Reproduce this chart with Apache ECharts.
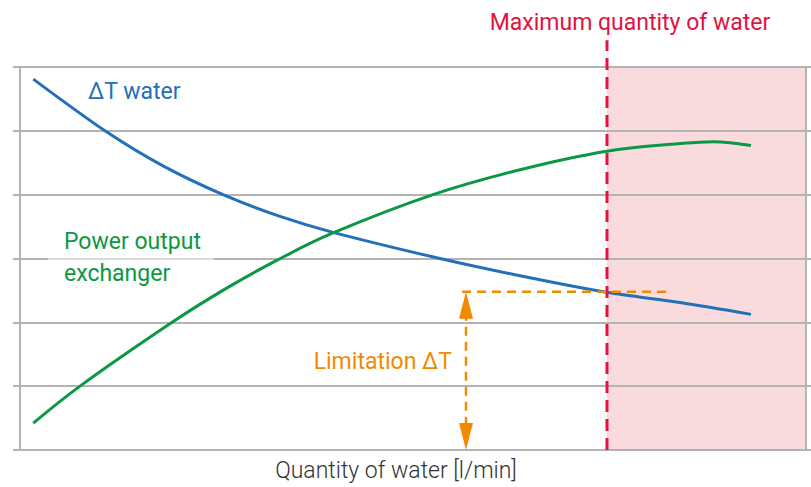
<!DOCTYPE html>
<html><head><meta charset="utf-8">
<script src="https://cdn.jsdelivr.net/npm/echarts@6/dist/echarts.min.js"></script>
<style>html,body{margin:0;padding:0;background:#fff}#c{width:811px;height:487px}</style>
</head><body><div id="c"></div>
<script>
// ---- data (hidden axes: x = water quantity units, y = arbitrary level units) ----
const xMin = 0, xMax = 78.6;
const yMin = 0, yMax = 6, yStep = 1;
const deltaTX = [1.33, 8.5, 14.3, 20.3, 26, 31.3, 42, 50, 58.67, 66, 73.1];
const deltaTY = [5.81, 5.0, 4.45, 4.0, 3.66, 3.41, 3.0, 2.73, 2.47, 2.31, 2.125];
const powerX = [1.33, 6.17, 15.4, 20.5, 25.67, 31.3, 41.3, 50, 58.67, 66, 69.3, 73.1];
const powerY = [0.42, 1.02, 2.02, 2.52, 2.97, 3.40, 4.0, 4.39, 4.68, 4.80, 4.83, 4.77];
const maxQuantityX = 58.7;
const maxLineTopY = 6.42;
const limitX = 44.6;
const limitY = 2.48;
const limitLineX = [44.2, 65.2];
const labels = {
  deltaT: {text: 'ΔT water', x: 6.8, y: 5.61},
  power: {text: 'Power output\nexchanger', x: 2.8, y: 3.02},
  limit: {text: 'Limitation ΔT', x: 43.2, y: 1.38},
  maxQ: {text: 'Maximum quantity of water', x: 61.0, y: 6.70}
};
const xTitle = 'Quantity of water [l/min]';

const BLUE = '#2270b9', GREEN = '#0b9844', RED = '#e2133f', ORANGE = '#f18a00', GRAY = '#b3b3b3', PINK = '#fadbdd';
const FONT = 'Roboto';
const FS = 23;

const chart = echarts.init(document.getElementById('c'), null, {renderer: 'svg'});
const zip = (xs, ys) => xs.map((x, i) => [x, ys[i]]);

chart.setOption({
  animation: false,
  grid: {left: 20, right: 5, top: 67, bottom: 36},
  xAxis: {
    type: 'value', min: xMin, max: xMax,
    axisLine: {show: false}, axisTick: {show: false}, axisLabel: {show: false}, splitLine: {show: false},
    name: xTitle, nameLocation: 'middle', nameGap: 8,
    nameTextStyle: {fontFamily: FONT, fontSize: FS, fontWeight: 300, color: '#333', verticalAlign: 'top', padding: [1, 34, 0, 0]}
  },
  yAxis: [{
    type: 'value', min: yMin, max: yMax, interval: yStep, position: 'left',
    axisLine: {show: true, lineStyle: {color: GRAY, width: 2}},
    axisTick: {show: true, length: 7, lineStyle: {color: GRAY, width: 2}},
    axisLabel: {show: false},
    splitLine: {show: true, lineStyle: {color: GRAY, width: 2}}
  }, {
    type: 'value', min: yMin, max: yMax, interval: yStep, position: 'right',
    axisLine: {show: true, lineStyle: {color: GRAY, width: 2}},
    axisTick: {show: true, length: 6, lineStyle: {color: GRAY, width: 2}},
    axisLabel: {show: false}, splitLine: {show: false}
  }],
  series: [{
    name: 'ΔT water', type: 'line', data: zip(deltaTX, deltaTY), smooth: 0.3,
    symbol: 'none', lineStyle: {color: BLUE, width: 3}, z: 5
  }, {
    name: 'Power output exchanger', type: 'line', data: zip(powerX, powerY), smooth: 0.4,
    symbol: 'none', lineStyle: {color: GREEN, width: 3}, z: 5
  }]
});

function P(x, y) { return chart.convertToPixel({xAxisIndex: 0, yAxisIndex: 0}, [x, y]); }

function buildGraphic() {
  const g = [];
  const a = P(maxQuantityX, yMax), b = P(xMax, yMin);
  g.push({type: 'rect', z: -1, silent: true, shape: {x: a[0], y: a[1], width: b[0] - a[0], height: b[1] - a[1]}, style: {fill: PINK}});
  const r0 = P(maxQuantityX, yMin), r1 = P(maxQuantityX, maxLineTopY);
  g.push({type: 'line', z: 10, shape: {x1: r0[0], y1: r0[1], x2: r1[0], y2: r1[1]}, style: {stroke: RED, lineWidth: 3, lineDash: [12, 7]}});
  // orange limitation
  const h0 = P(limitLineX[0], limitY), h1 = P(limitLineX[1], limitY);
  g.push({type: 'line', z: 10, shape: {x1: h0[0], y1: h0[1], x2: h1[0], y2: h1[1]}, style: {stroke: ORANGE, lineWidth: 2.5, lineDash: [9, 6]}});
  const v0 = P(limitX, limitY), v1 = P(limitX, yMin);
  g.push({type: 'line', z: 10, shape: {x1: v0[0], y1: v0[1] + 20, x2: v1[0], y2: v1[1] - 20}, style: {stroke: ORANGE, lineWidth: 2.5, lineDash: [9, 6]}});
  const aw = 7, ah = 27;
  g.push({type: 'polygon', z: 10, shape: {points: [[v0[0], v0[1]], [v0[0] - aw, v0[1] + ah], [v0[0] + aw, v0[1] + ah]]}, style: {fill: ORANGE}});
  g.push({type: 'polygon', z: 10, shape: {points: [[v1[0], v1[1]], [v1[0] - aw, v1[1] - ah], [v1[0] + aw, v1[1] - ah]]}, style: {fill: ORANGE}});
  // texts
  const t1 = P(labels.deltaT.x, labels.deltaT.y);
  g.push({type: 'text', z: 20, x: t1[0], y: t1[1], style: {text: labels.deltaT.text, fill: BLUE, font: FS + 'px ' + FONT, verticalAlign: 'middle', align: 'left'}});
  const t2 = P(labels.power.x, labels.power.y);
  g.push({type: 'text', z: 20, x: t2[0], y: t2[1], style: {text: labels.power.text, fill: GREEN, font: FS + 'px ' + FONT, lineHeight: 32, verticalAlign: 'middle', align: 'left', backgroundColor: 'rgba(255,255,255,0.5)', padding: [0, 13, 0, 16]}});
  const t3 = P(labels.limit.x, labels.limit.y);
  g.push({type: 'text', z: 20, x: t3[0], y: t3[1], style: {text: labels.limit.text, fill: ORANGE, font: FS + 'px ' + FONT, verticalAlign: 'middle', align: 'right'}});
  const t4 = P(labels.maxQ.x, labels.maxQ.y);
  g.push({type: 'text', z: 20, x: t4[0], y: t4[1], style: {text: labels.maxQ.text, fill: RED, font: FS + 'px ' + FONT, verticalAlign: 'middle', align: 'center'}});
  return g;
}
chart.setOption({graphic: {elements: buildGraphic()}});
</script></body></html>
